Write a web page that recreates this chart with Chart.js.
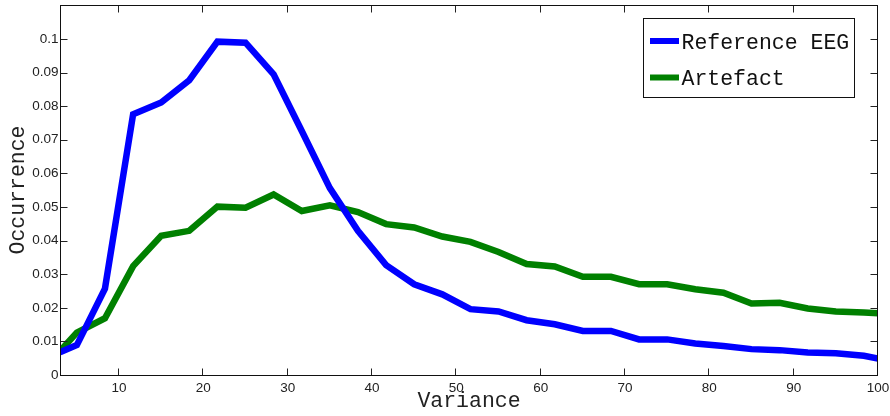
<!DOCTYPE html>
<html>
<head>
<meta charset="utf-8">
<script src="https://cdn.jsdelivr.net/npm/chart.js@4"></script>
<style>
  html, body { margin: 0; padding: 0; background: #fff; }
  canvas { display: block; }
</style>
</head>
<body>
<canvas id="myChart" width="890" height="416"></canvas>
<script>
// histogram bin centres (variance)
const variance = [3, 5, 8.33, 11.67, 15, 18.33, 21.67, 25, 28.33, 31.67, 35, 38.33, 41.67, 45, 48.33,
  51.67, 55, 58.33, 61.67, 65, 68.33, 71.67, 75, 78.33, 81.67, 85, 88.33, 91.67, 95, 98.33, 100]

const referenceEEG = [0.0068, 0.0089, 0.0257, 0.0776, 0.0811, 0.0877, 0.0992, 0.0989, 0.0895, 0.0726, 0.0556,
  0.0429, 0.0327, 0.0270, 0.0240, 0.0196, 0.0189, 0.0163, 0.0151, 0.0131, 0.0131, 0.0106, 0.0106,
  0.0094, 0.0086, 0.0077, 0.0074, 0.0067, 0.0065, 0.0057, 0.0049]

const artefact = [0.0071, 0.0126, 0.0169, 0.0324, 0.0414, 0.0429, 0.0501, 0.0498, 0.0537, 0.0488, 0.0505,
  0.0485, 0.0449, 0.0439, 0.0412, 0.0396, 0.0366, 0.0330, 0.0323, 0.0292, 0.0292, 0.0270, 0.0270,
  0.0255, 0.0245, 0.0213, 0.0215, 0.0198, 0.0189, 0.0186, 0.0184]

const xTicks = [10, 20, 30, 40, 50, 60, 70, 80, 90, 100]
const yTicks = [0, 0.01, 0.02, 0.03, 0.04, 0.05, 0.06, 0.07, 0.08, 0.09, 0.1]

const mono = "'Liberation Mono', 'Courier New', monospace"
const sans = "'Liberation Sans', Arial, Helvetica, sans-serif"

function toPoints(ys){
  return variance.map((v, i) => ({x: v, y: ys[i]}))
}

// box around the axes with inward tick marks on all four sides
const frame = {
  id: 'frame',
  afterDatasetsDraw(chart){
    const {ctx, chartArea: a, scales} = chart
    const L = Math.round(a.left) + 0.5, R = Math.round(a.right) - 0.5
    const T = Math.round(a.top) + 0.5, B = Math.round(a.bottom) + 0.5
    const len = 7
    ctx.save()
    ctx.strokeStyle = '#222'
    ctx.lineWidth = 1
    ctx.beginPath()
    xTicks.forEach(v => {
      const px = Math.round(scales.x.getPixelForValue(v)) - 0.5
      ctx.moveTo(px, B); ctx.lineTo(px, B - len)
      ctx.moveTo(px, T); ctx.lineTo(px, T + len)
    })
    yTicks.forEach(v => {
      const py = Math.round(scales.y.getPixelForValue(v)) + 0.5
      ctx.moveTo(L, py); ctx.lineTo(L + len, py)
      ctx.moveTo(R, py); ctx.lineTo(R - len, py)
    })
    ctx.stroke()
    ctx.strokeStyle = '#111'
    ctx.strokeRect(L, T, R - L, B - T)
    ctx.restore()
  }
}

// legend box in the upper right corner
const boxLegend = {
  id: 'boxLegend',
  afterDraw(chart){
    const ctx = chart.ctx
    const x0 = 643.5, y0 = 18.5, w = 211, h = 79
    ctx.save()
    ctx.fillStyle = '#fff'
    ctx.fillRect(x0, y0, w, h)
    ctx.strokeStyle = '#111'
    ctx.lineWidth = 1
    ctx.strokeRect(x0, y0, w, h)
    const rows = [41, 77.5]
    chart.data.datasets.forEach((ds, i) => {
      ctx.strokeStyle = ds.borderColor
      ctx.lineWidth = 6
      ctx.beginPath()
      ctx.moveTo(650, rows[i])
      ctx.lineTo(679, rows[i])
      ctx.stroke()
      ctx.fillStyle = '#111'
      ctx.font = '21.5px ' + mono
      ctx.textBaseline = 'alphabetic'
      ctx.fillText(ds.label, 681.5, rows[i] + 7.5)
    })
    ctx.restore()
  }
}

new Chart(document.getElementById('myChart'), {
  type: 'line',
  data: {
    datasets: [{
      label: 'Reference EEG',
      data: toPoints(referenceEEG),
      borderColor: '#0000ff',
      borderWidth: 6.5,
      pointRadius: 0,
      tension: 0
    }, {
      label: 'Artefact',
      data: toPoints(artefact),
      borderColor: '#008000',
      borderWidth: 6.5,
      pointRadius: 0,
      tension: 0
    }]
  },
  options: {
    responsive: false,
    animation: false,
    devicePixelRatio: 1,
    layout: {padding: {top: 5, right: 12, left: 0, bottom: 0}},
    plugins: {legend: {display: false}, tooltip: {enabled: false}},
    scales: {
      x: {
        type: 'linear',
        min: 3,
        max: 100,
        afterBuildTicks: s => { s.ticks = xTicks.map(v => ({value: v})) },
        afterFit: s => { s.height = 41; s.paddingLeft = 0; s.paddingRight = 0 },
        grid: {display: false, drawTicks: false},
        border: {display: false},
        ticks: {
          color: '#222',
          font: {family: sans, size: 13.5},
          padding: 5,
          maxRotation: 0,
          callback: v => String(v)
        },
        title: {
          display: true,
          text: 'Variance',
          color: '#222',
          font: {family: mono, size: 21.5, lineHeight: 1},
          padding: {top: 0, bottom: 4}
        }
      },
      y: {
        min: 0,
        max: 0.1101,
        afterBuildTicks: s => { s.ticks = yTicks.map(v => ({value: v})) },
        afterFit: s => { s.width = 60; s.paddingTop = 0; s.paddingBottom = 0 },
        grid: {display: false, drawTicks: false},
        border: {display: false},
        ticks: {
          color: '#222',
          font: {family: sans, size: 13.5},
          padding: 1.5,
          callback: v => v === 0 ? '0' : String(+v.toFixed(2))
        },
        title: {
          display: true,
          text: 'Occurrence',
          color: '#222',
          font: {family: mono, size: 21.5, lineHeight: 1},
          padding: {top: 8, bottom: 0}
        }
      }
    }
  },
  plugins: [frame, boxLegend]
})
</script>
</body>
</html>
